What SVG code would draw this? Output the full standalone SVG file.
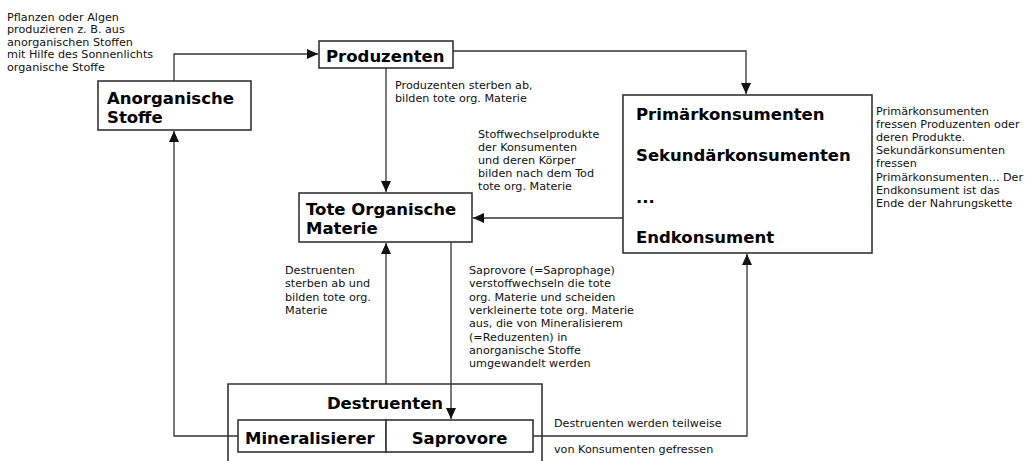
<svg xmlns="http://www.w3.org/2000/svg" width="1031" height="461" viewBox="0 0 1031 461">
<style>
.box{fill:#fff;stroke:#333;stroke-width:1.6}
.outer{fill:none;stroke:#333;stroke-width:1.6}
.lbl{font-family:"DejaVu Sans",sans-serif;font-weight:bold;font-size:16.5px;fill:#000}
.note{font-family:"DejaVu Sans",sans-serif;font-size:11.2px;fill:#111}
.con{fill:none;stroke:#333;stroke-width:1.3}
</style>
<defs>
<marker id="arr" markerUnits="userSpaceOnUse" markerWidth="12" markerHeight="10" refX="11" refY="5" orient="auto">
<path d="M0,0 L11,5 L0,10 Z" fill="#111"/>
</marker>
</defs>
<rect width="1031" height="461" fill="#fff"/>
<g id="connectors">
<path class="con" d="M174,81 V54 H318" marker-end="url(#arr)"/>
<path class="con" d="M453,51 H746 V94" marker-end="url(#arr)"/>
<path class="con" d="M386,68 V192" marker-end="url(#arr)"/>
<path class="con" d="M623,218 H473" marker-end="url(#arr)"/>
<path class="con" d="M386,384 V243" marker-end="url(#arr)"/>
<path class="con" d="M451,242 V419" marker-end="url(#arr)"/>
<path class="con" d="M238,436 H174 V131" marker-end="url(#arr)"/>
<path class="con" d="M533,436 H747 V254" marker-end="url(#arr)"/>
</g>
<g id="anorganische">
<rect class="box" x="98" y="81" width="153" height="49"/>
<text class="lbl" x="107" y="104">Anorganische</text>
<text class="lbl" x="107" y="123">Stoffe</text>
</g>
<g id="produzenten">
<rect class="box" x="319" y="41" width="134" height="27"/>
<text class="lbl" x="326" y="61.5">Produzenten</text>
</g>
<g id="tote">
<rect class="box" x="299" y="193" width="173" height="49"/>
<text class="lbl" x="306" y="214.5">Tote Organische</text>
<text class="lbl" x="306" y="234">Materie</text>
</g>
<g id="konsumenten">
<rect class="box" x="623" y="95" width="249" height="158"/>
<text class="lbl" x="636" y="120">Primärkonsumenten</text>
<text class="lbl" x="636" y="161">Sekundärkonsumenten</text>
<text class="lbl" x="636" y="203">...</text>
<text class="lbl" x="636" y="243">Endkonsument</text>
</g>
<g id="destruenten">
<path class="outer" d="M228,461 V384 H542 V461"/>
<text class="lbl" x="385" y="408.5" text-anchor="middle">Destruenten</text>
</g>
<g id="mineralisierer">
<rect class="box" x="238" y="420" width="148" height="32"/>
<text class="lbl" x="245" y="443.5">Mineralisierer</text>
</g>
<g id="saprovore">
<rect class="box" x="386" y="420" width="147" height="32"/>
<text class="lbl" x="459.5" y="443.5" text-anchor="middle">Saprovore</text>
</g>
<g id="notes">
<text class="note" x="7" y="20.5">Pflanzen oder Algen</text>
<text class="note" x="7" y="33">produzieren z. B. aus</text>
<text class="note" x="7" y="45.5">anorganischen Stoffen</text>
<text class="note" x="7" y="58">mit Hilfe des Sonnenlichts</text>
<text class="note" x="7" y="70.5">organische Stoffe</text>
<text class="note" x="395" y="89">Produzenten sterben ab,</text>
<text class="note" x="395" y="102">bilden tote org. Materie</text>
<text class="note" x="478" y="138">Stoffwechselprodukte</text>
<text class="note" x="478" y="151">der Konsumenten</text>
<text class="note" x="478" y="164">und deren Körper</text>
<text class="note" x="478" y="177">bilden nach dem Tod</text>
<text class="note" x="478" y="190">tote org. Materie</text>
<text class="note" x="876" y="114.5">Primärkonsumenten</text>
<text class="note" x="876" y="127.7">fressen Produzenten oder</text>
<text class="note" x="876" y="140.9">deren Produkte.</text>
<text class="note" x="876" y="154.1">Sekundärkonsumenten</text>
<text class="note" x="876" y="167.3">fressen</text>
<text class="note" x="876" y="180.5">Primärkonsumenten... Der</text>
<text class="note" x="876" y="193.7">Endkonsument ist das</text>
<text class="note" x="876" y="206.9">Ende der Nahrungskette</text>
<text class="note" x="285" y="274">Destruenten</text>
<text class="note" x="285" y="287.3">sterben ab und</text>
<text class="note" x="285" y="300.6">bilden tote org.</text>
<text class="note" x="285" y="313.9">Materie</text>
<text class="note" x="469" y="274">Saprovore (=Saprophage)</text>
<text class="note" x="469" y="287.3">verstoffwechseln die tote</text>
<text class="note" x="469" y="300.6">org. Materie und scheiden</text>
<text class="note" x="469" y="313.9">verkleinerte tote org. Materie</text>
<text class="note" x="469" y="327.2">aus, die von Mineralisierem</text>
<text class="note" x="469" y="340.5">(=Reduzenten) in</text>
<text class="note" x="469" y="353.8">anorganische Stoffe</text>
<text class="note" x="469" y="367.1">umgewandelt werden</text>
<text class="note" x="554" y="427">Destruenten werden teilweise</text>
<text class="note" x="554" y="453">von Konsumenten gefressen</text>
</g>
</svg>
